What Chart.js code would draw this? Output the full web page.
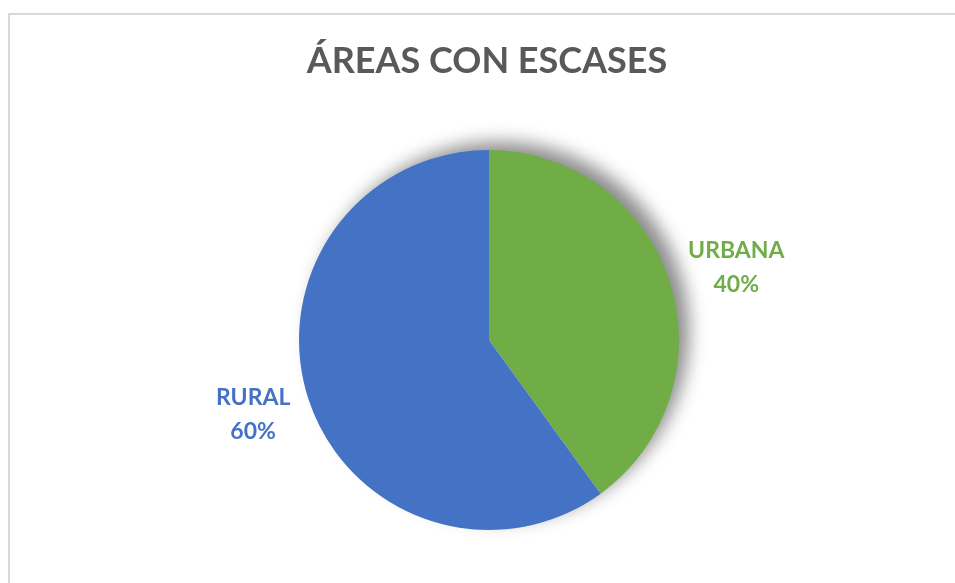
<!DOCTYPE html>
<html>
<head>
<meta charset="utf-8">
<script src="https://cdn.jsdelivr.net/npm/chart.js@4.4.0/dist/chart.umd.min.js"></script>
<style>
  html, body { margin: 0; padding: 0; background: #fff; overflow: hidden; }
  #frame { position: absolute; left: 8px; top: 13px; width: 1000px; height: 700px; border: 2px solid #d9d9d9; }
  #wrap { position: absolute; left: 0; top: 0; width: 955px; height: 583px; }
</style>
</head>
<body>
<div id="frame"></div>
<div id="wrap"><canvas id="chart_areas"></canvas></div>
<script>
const chartTitle = "ÁREAS CON ESCASES";
const categories = ["URBANA", "RURAL"];
const values = [40, 60];
const sliceColors = ["#70ad47", "#4472c4"];

// shadow behind the whole pie (drawn once, slices cover it)
const shadowPlugin = {
  id: "pieShadow",
  beforeDatasetsDraw(chart) {
    const c = chart.ctx;
    const arc = chart.getDatasetMeta(0).data[0];
    if (!arc) return;
    c.save();
    c.shadowColor = "rgba(0,0,0,0.45)";
    c.shadowBlur = 18;
    c.shadowOffsetX = 11;
    c.shadowOffsetY = -9;
    c.fillStyle = "#ffffff";
    c.beginPath();
    c.arc(arc.x, arc.y, arc.outerRadius - 1, 0, Math.PI * 2);
    c.fill();
    c.restore();
  },
};

// title + outside labels
const labelGap = [70, 58];
const labelNudgeY = [8, -2];
const textPlugin = {
  id: "textLabels",
  afterDraw(chart) {
    const c = chart.ctx;
    let total = values.reduce((a, b) => a + b, 0);
    c.save();
    c.fillStyle = "#595959";
    c.font = "bold 36px Lato";
    c.textAlign = "center";
    c.textBaseline = "alphabetic";
    c.fillText(chartTitle, 487, 73);

    chart.getDatasetMeta(0).data.forEach((arc, i) => {
      const p = arc.getProps(["x", "y", "startAngle", "endAngle", "outerRadius"], true);
      const mid = (p.startAngle + p.endAngle) / 2;
      const r = p.outerRadius + labelGap[i];
      const x = p.x + Math.cos(mid) * r;
      const y = p.y + Math.sin(mid) * r + labelNudgeY[i];
      c.fillStyle = sliceColors[i];
      c.font = "bold 23px Lato";
      c.textBaseline = "middle";
      c.fillText(categories[i], x, y - 17);
      c.fillText(Math.round((values[i] / total) * 100) + "%", x, y + 17);
    });
    c.restore();
  },
};

var ctx = document.getElementById("chart_areas").getContext("2d");
var myChart = new Chart(ctx, {
  type: "pie",
  data: {
    labels: categories,
    datasets: [
      {
        data: values,
        backgroundColor: sliceColors,
        borderColor: "#ffffff",
        borderWidth: 0,
      },
    ],
  },
  options: {
    animation: false,
    responsive: true,
    maintainAspectRatio: false,
    layout: {
      padding: { left: 299, right: 276, top: 150, bottom: 53 },
    },
    plugins: {
      legend: { display: false },
      tooltip: { enabled: false },
      title: { display: false },
    },
  },
  plugins: [shadowPlugin, textPlugin],
});
</script>
</body>
</html>
